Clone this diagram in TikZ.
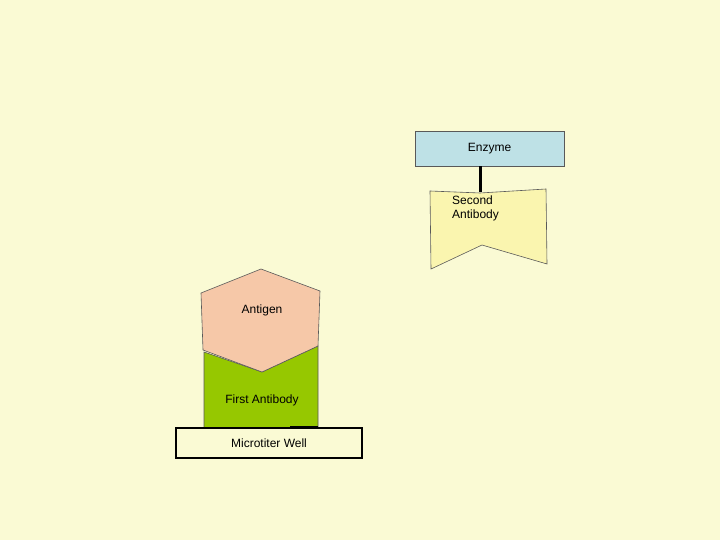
\documentclass[tikz,border=0pt]{standalone}
\usepackage{fontspec}
\setmainfont{Liberation Sans}
\definecolor{bg}{RGB}{250,250,212}
\definecolor{enz}{RGB}{190,225,230}
\definecolor{ab2}{RGB}{250,245,175}
\definecolor{ag}{RGB}{246,200,168}
\definecolor{ab1}{RGB}{150,200,0}
\begin{document}
\begin{tikzpicture}[x=1pt,y=-1pt,
  lbl/.style={font=\fontsize{12}{14}\selectfont, inner sep=0pt},
  shp/.style={draw=gray!70!black, line width=0.6pt}]
\fill[bg] (0,0) rectangle (720,540);
\useasboundingbox (0,0) rectangle (720,540);
% first antibody
\filldraw[shp, fill=ab1] (204,352) -- (262,372) -- (318,346) -- (318,428) -- (204,428) -- cycle;
\draw[line width=1.5pt] (290,427) -- (318,427);
% antigen
\filldraw[shp, fill=ag] (261,269) -- (320,291) -- (318,346) -- (262,372) -- (203,350) -- (201,293) -- cycle;
\node[lbl] (antigen) at (262,310) {Antigen};
\node[lbl] (ab1) at (262,400) {First Antibody};
% well
\node[draw=black, line width=1.8pt, fill=bg, minimum width=186pt, minimum height=30pt, inner sep=0pt, lbl] (well) at (269,443) {Microtiter Well};
% enzyme
\node[draw=gray!70!black, fill=enz, minimum width=149pt, minimum height=35pt, lbl] (enzyme) at (489.5,148.5) {Enzyme};
% second antibody
\filldraw[shp, fill=ab2] (430,191) -- (480,193) -- (546,189) -- (547,264) -- (482,245) -- (431,269) -- cycle;
\node[lbl, align=left, anchor=north west] (ab2) at (452,196) {Second\\Antibody};
\coordinate (ab2top) at (480,192);
\draw[line width=3pt] (enzyme.south -| ab2top) -- (ab2top);
\end{tikzpicture}
\end{document}
